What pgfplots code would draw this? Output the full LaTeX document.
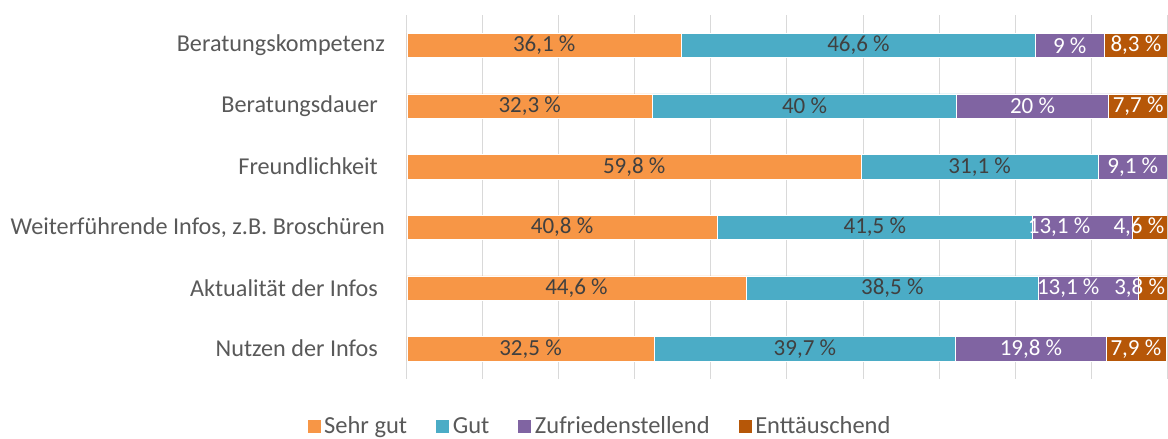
\documentclass[border=0pt]{standalone}
\usepackage{pgfplots}
\pgfplotsset{compat=1.18}
\usepackage{pgfplotstable}
\usepackage{fontspec}
\setmainfont{Carlito}

\definecolor{cSG}{HTML}{F79646}
\definecolor{cG}{HTML}{4BACC6}
\definecolor{cZ}{HTML}{8064A2}
\definecolor{cE}{HTML}{B65708}
\definecolor{txt}{HTML}{595959}
\definecolor{lbl}{HTML}{404040}
\definecolor{grd}{HTML}{D9D9D9}

% zx, ex: x positions of the purple / dark labels as placed in the chart
\pgfplotstableread{
idx sg   g    z    e   zx   ex
0   36.1 46.6 9.0  8.3 87.2 95.9
1   32.3 40.0 20.0 7.7 82.3 96.2
2   59.8 31.1 9.1  0   95.5 nan
3   40.8 41.5 13.1 4.6 85.8 96.3
4   44.6 38.5 13.1 3.8 87.0 96.4
5   32.5 39.7 19.8 7.9 82.1 95.9
}\data

\pgfplotsset{
  common/.style={
    scale only axis, width=760bp, height=364bp,
    xmin=0, xmax=100, ymin=-0.5, ymax=5.5, y dir=reverse,
  },
  lab/.style={
    draw=none, mark=none, nodes near coords, point meta=explicit,
    nodes near coords={\pgfmathprintnumber[fixed,precision=1,use comma,assume math mode=true]{\pgfplotspointmeta}~\%},
    every node near coord/.append style={anchor=center, text=#1,
      font=\fontsize{23bp}{26bp}\selectfont, inner sep=0pt},
  },
}

\begin{document}
\begin{tikzpicture}
\useasboundingbox (-407bp,-60bp) rectangle (761bp,379bp);
\begin{axis}[
  common,
  xbar stacked, bar width=24.4bp,
  xtick={0,10,...,100}, xticklabels={},
  xmajorgrids, grid style={grd, line width=1bp},
  ytick={0,...,5},
  yticklabels={Beratungskompetenz, Beratungsdauer\kern7bp, Freundlichkeit\kern7bp,
    {Weiterführende Infos, z.B. Broschüren}, Aktualität der Infos\kern7bp, Nutzen der Infos\kern7bp},
  yticklabel style={anchor=east, inner sep=0pt, xshift=-22bp, text=txt,
    font=\fontsize{24.2bp}{28bp}\selectfont},
  major tick length=0pt, tick style={draw=none},
  axis line style={draw=none},
  every axis plot post/.append style={
    legend image code/.code={\fill[##1] (0bp,-7bp) rectangle (14bp,7bp);}},
  legend style={at={(0.254,-0.129)}, anchor=center, draw=none,
    font=\fontsize{24.5bp}{28bp}\selectfont, text=txt,
    nodes={inner xsep=3bp, inner ysep=0pt},
    /tikz/every even column/.append style={column sep=25bp}},
  legend columns=-1,
]
\addplot[fill=cSG, draw=white, line width=0.6bp] table[x=sg, y=idx] {\data};
\addplot[fill=cG,  draw=white, line width=0.6bp] table[x=g,  y=idx] {\data};
\addplot[fill=cZ,  draw=white, line width=0.6bp] table[x=z,  y=idx] {\data};
\addplot[fill=cE,  draw=white, line width=0.6bp] table[x=e,  y=idx] {\data};
\legend{Sehr gut, Gut, Zufriedenstellend, Enttäuschend}
\end{axis}
\begin{axis}[common, hide axis]
\addplot[lab=lbl] table[x expr=\thisrow{sg}/2, y=idx, meta=sg] {\data};
\addplot[lab=lbl] table[x expr=\thisrow{sg}+\thisrow{g}/2, y=idx, meta=g] {\data};
\addplot[lab=white] table[x=zx, y=idx, meta=z] {\data};
\addplot[lab=white] table[x=ex, y=idx, meta=e] {\data};
\end{axis}
\end{tikzpicture}
\end{document}
